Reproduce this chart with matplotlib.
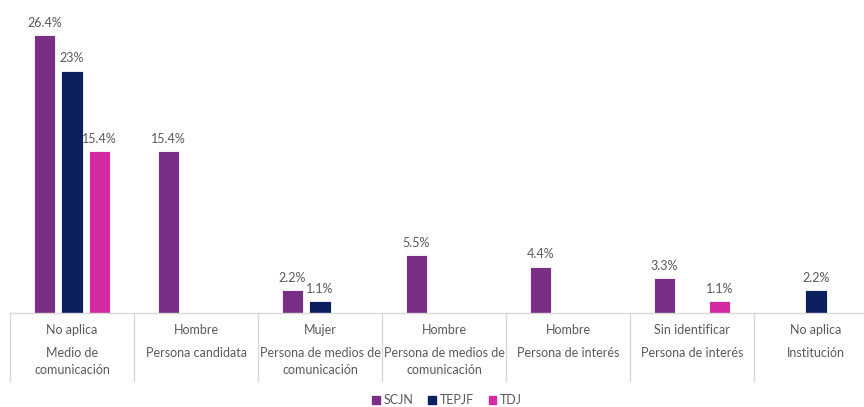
import numpy as np
import matplotlib.pyplot as plt
from matplotlib.transforms import blended_transform_factory
from matplotlib.patches import Patch

plt.rcParams['font.family'] = ['Lato', 'DejaVu Sans']

level1 = ["No aplica", "Hombre", "Mujer", "Hombre", "Hombre", "Sin identificar", "No aplica"]
level2 = ["Medio de\ncomunicación", "Persona candidata", "Persona de medios de\ncomunicación",
          "Persona de medios de\ncomunicación", "Persona de interés", "Persona de interés",
          "Institución"]
series = ["SCJN", "TEPJF", "TDJ"]
scjn = [26.4, 15.4, 2.2, 5.5, 4.4, 3.3, 0]
tepjf = [23, 0, 1.1, 0, 0, 0, 2.2]
tdj = [15.4, 0, 0, 0, 0, 1.1, 0]
colors = ["#7a2f87", "#0c1f5e", "#d42aa2"]

W, H = 864, 407
fig = plt.figure(figsize=(W / 100, H / 100), dpi=100)
# axes spans 7 categories of 124 px, starting at x=10, baseline at y=313
ax = fig.add_axes([10 / W, (H - 313) / H, 868 / W, 313 / H])
ax.set_xlim(-0.5, 6.5)
ax.set_ylim(0, 313 / 10.53)

x = np.arange(len(level1))
step = 0.222
bw = 0.17
grey = "#595959"
for i, (name, vals) in enumerate(zip(series, [scjn, tepjf, tdj])):
    pos = x + (i - 1) * step
    for p, v in zip(pos, vals):
        if v == 0:
            continue
        ax.bar(p, v, width=bw, color=colors[i], edgecolor="white", linewidth=0.6)
        lab = f"{v:g}%"
        ax.text(p, v + 0.6, lab, ha="center", va="bottom", fontsize=9, color=grey)

for s in ax.spines.values():
    s.set_visible(False)
ax.set_xticks([])
ax.set_yticks([])
ax.axhline(0, color="#d9d9d9", linewidth=1, clip_on=False)

tr = blended_transform_factory(ax.transData, fig.transFigure)
for k in range(len(level1) + 1):
    ax.plot([k - 0.5, k - 0.5], [(H - 313) / H, (H - 381) / H], color="#d9d9d9",
            linewidth=1, transform=tr, clip_on=False)
for k in range(len(level1)):
    ax.text(k, (H - 330) / H, level1[k], ha="center", va="center", fontsize=9,
            color=grey, transform=tr)
    ax.text(k, (H - 347) / H, level2[k], ha="center", va="top", fontsize=9,
            color=grey, transform=tr, linespacing=1.5)

handles = [Patch(color=c, label=n) for c, n in zip(colors, series)]
fig.legend(handles=handles, loc="center", bbox_to_anchor=(447 / W, 7 / H), ncol=3,
           frameon=False, fontsize=9, handlelength=0.6, handleheight=0.6,
           handletextpad=0.3, columnspacing=1.2, labelcolor=grey)

fig.savefig("out.png", dpi=100)
